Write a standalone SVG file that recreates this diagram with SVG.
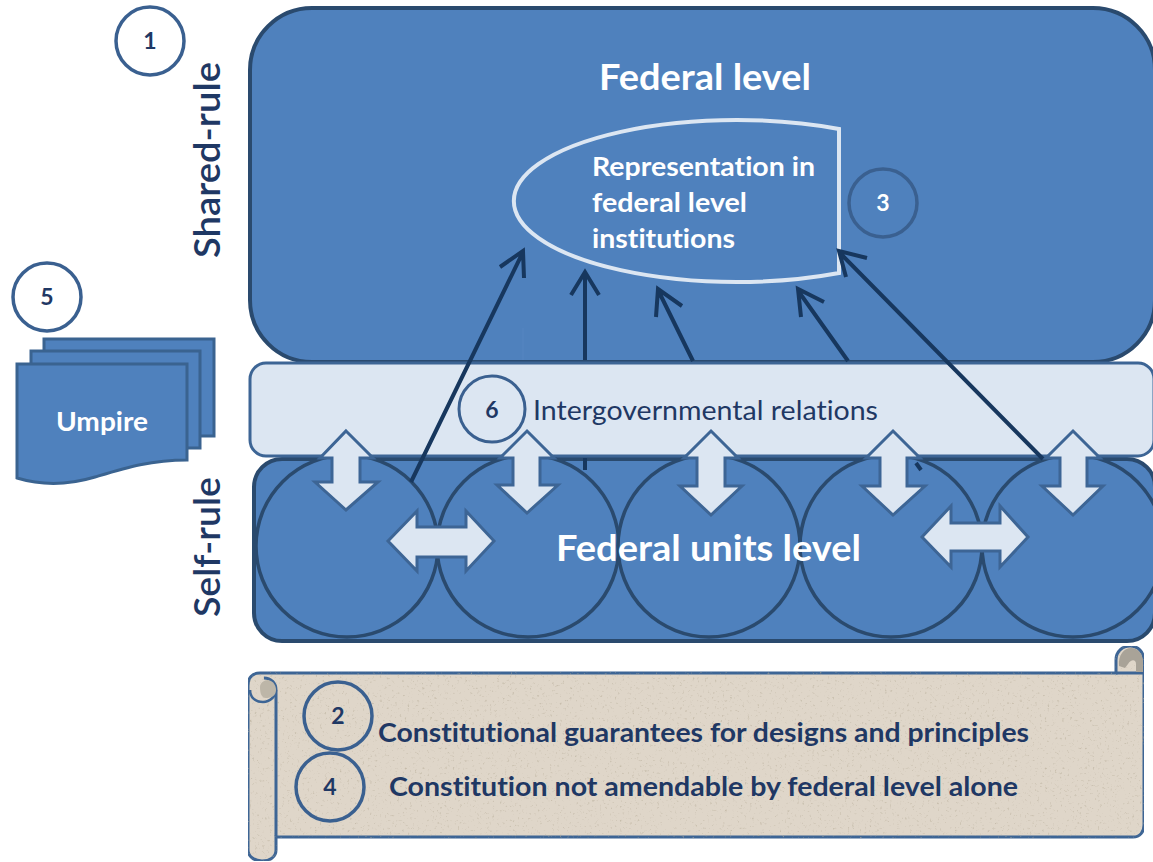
<svg xmlns="http://www.w3.org/2000/svg" width="1153" height="862" viewBox="0 0 1153 862">
<defs>
<filter id="paper" x="0" y="0" width="100%" height="100%" color-interpolation-filters="sRGB">
<feTurbulence type="fractalNoise" baseFrequency="0.4" numOctaves="2" seed="4" result="noise"/>
<feColorMatrix in="noise" type="matrix" values="0 0 0 0 0.72  0 0 0 0 0.68  0 0 0 0 0.60  0 0 0 2.4 -1.5" result="spots"/>
<feComposite in="spots" in2="SourceAlpha" operator="in" result="clipped"/>
<feMerge><feMergeNode in="SourceGraphic"/><feMergeNode in="clipped"/></feMerge>
</filter>
</defs>
<style>
text{font-family:Lato,"Open Sans","Liberation Sans",sans-serif;font-weight:700;font-variant-ligatures:none}
.unit{fill:#4f81bd;stroke:#2a4a6e;stroke-width:3.5}
.top{fill:#4f81bd;stroke:#2a4a6e;stroke-width:4}
.ring{fill:#fff;stroke:#3a6090;stroke-width:3.5}
.hollow{fill:none;stroke:#3a6090;stroke-width:3.5}
.n{fill:#1f3864;font-size:23px;text-anchor:middle}
.w{fill:#fff}
.arrow{fill:#dce6f2;stroke:#3d6595;stroke-width:3;stroke-linejoin:miter}
.conn{fill:none;stroke:#17375e;stroke-width:4}
.doc{fill:#4f81bd;stroke:#3a6390;stroke-width:3}
.scroll{fill:#dfd6c9;stroke:#3d6595;stroke-width:3}
.t{fill:#1f3864;font-size:27px}
.side{fill:#1f3864;font-size:36px;font-weight:600}
</style>
<g id="federal-level">
<rect class="top" x="250" y="8" width="905" height="354" rx="62"/>
<text class="w" x="599" y="90" font-size="36" textLength="212" lengthAdjust="spacingAndGlyphs">Federal level</text>
</g>
<g id="representation">
<path d="M839 129A223 81 0 1 0 839 273Z" fill="#4f81bd" stroke="#dce6f2" stroke-width="4"/>
<text class="w" font-size="27" x="592" y="176" textLength="223" lengthAdjust="spacingAndGlyphs">Representation in</text>
<text class="w" font-size="27" x="592" y="212" textLength="155" lengthAdjust="spacingAndGlyphs">federal level</text>
<text class="w" font-size="27" x="592" y="248" textLength="143" lengthAdjust="spacingAndGlyphs">institutions</text>
</g>
<g id="n3"><circle cx="883" cy="203" r="34" fill="none" stroke="#3a6090" stroke-width="3.5"/><text class="w" x="883" y="211" font-size="23" text-anchor="middle">3</text></g>
<g id="units-level">
<rect class="top" x="254" y="459" width="901" height="182" rx="28"/>
</g>
<g id="irg">
<rect x="250" y="363" width="904" height="93" rx="16" fill="#dce6f2" stroke="#3d6595" stroke-width="3"/>
<text fill="#1f3864" font-size="27" x="533" y="420" style="font-weight:400" textLength="345" lengthAdjust="spacingAndGlyphs">Intergovernmental relations</text>
</g>
<g id="units">
<circle class="unit" cx="347" cy="546" r="91"/>
<circle class="unit" cx="528" cy="546" r="91"/>
<circle class="unit" cx="709" cy="546" r="91"/>
<circle class="unit" cx="891" cy="546" r="91"/>
<circle class="unit" cx="1073" cy="546" r="91"/>
<text class="w" x="556" y="561" font-size="37" textLength="305" lengthAdjust="spacingAndGlyphs">Federal units level</text>
</g>
<g id="connectors">
<path d="M523 360V328" fill="none" stroke="#5a8ac4" stroke-width="1.5" opacity="0.5"/>
<path class="conn" d="M411 482L522 254M500 267L523 251L524 278"/>
<path class="conn" d="M585 360V274M571 295L585 272L599 295"/>
<path class="conn" d="M585 458V470"/>
<path class="conn" d="M693 361L659 292M656 317L658 289L682 306"/>
<path class="conn" d="M848 361L799 292M801 317L798 289L824 302"/>
<path class="conn" d="M1043 459L841 254M846 277L839 251L867 258"/>
<path class="conn" d="M916 463L921 470"/>
</g>
<g id="exchange-arrows">
<path class="arrow" d="M346 431L373 458H360V482H378L346 510L315 482H332V458H320Z"/>
<path class="arrow" d="M527 431L554 458H540V485H558L527 513L497 485H513V458H500Z"/>
<path class="arrow" d="M711 431L738 458H725V486H742L711 515L680 486H697V458H684Z"/>
<path class="arrow" d="M893 431L920 458H907V486H925L893 515L862 486H880V458H866Z"/>
<path class="arrow" d="M1073 431L1100 458H1087V486H1103L1073 515L1042 486H1060V458H1046Z"/>
<path class="arrow" d="M388 541L417 511V527H466V511L494 541L466 571V557H417V571Z"/>
<path class="arrow" d="M922 537L951 506V523H1000V506L1028 537L1000 567V551H951V567Z"/>
</g>
<g id="n6"><circle cx="492" cy="409" r="33" fill="#dce6f2" stroke="#3a6090" stroke-width="3"/><text class="n" x="492" y="418">6</text></g>
<g id="scroll">
<path class="scroll" filter="url(#paper)" d="M1116 673V660C1116 651 1123 646 1130 646C1138 646 1144 652 1144 661V825C1144 832 1140 837 1133 837H276V850C276 857 270 861 262 861C254 861 248 856 248 850V686C248 678 252 673 260 673Z"/>
<path d="M264 678C271 678 276 683 276 690V836" fill="none" stroke="#3d6595" stroke-width="3"/>
<path d="M276 690C276 696 270 702 263 702C255 702 250 697 250 690" fill="none" stroke="#3d6595" stroke-width="2.5"/>
<path d="M276 690C276 696 271 698 266 698C261 698 260 692 260 687C260 683 264 680 268 680C273 681 276 685 276 690Z" fill="#bdb6a8"/>
<path d="M1116 673H1144" fill="none" stroke="#3d6595" stroke-width="3"/>
<path d="M1119 666C1118 655 1124 648 1131 648C1138 648 1143 654 1143 662V672H1136V664C1136 659 1131 659 1128 664L1125 668Z" fill="#a9a398"/>
<text class="t" x="378" y="742" textLength="651" lengthAdjust="spacingAndGlyphs">Constitutional guarantees for designs and principles</text>
<text class="t" x="389" y="796" textLength="629" lengthAdjust="spacingAndGlyphs">Constitution not amendable by federal level alone</text>
</g>
<g id="n2"><circle cx="338" cy="716" r="34" class="hollow"/><text class="n" x="338" y="724">2</text></g>
<g id="n4"><circle cx="330" cy="787" r="34" class="hollow"/><text class="n" x="330" y="795">4</text></g>
<g id="n1"><circle cx="150" cy="41" r="34" class="ring"/><text class="n" x="150" y="49">1</text></g>
<g id="n5"><circle cx="47" cy="297" r="34" class="ring"/><text class="n" x="47" y="305">5</text></g>
<g id="umpire">
<path class="doc" d="M44 339H214V436H44Z"/>
<path class="doc" d="M31 351H200V448H31Z"/>
<path class="doc" d="M17 364H187V460C150 460 125 468 95 477C65 486 40 485 17 478Z"/>
<text class="w" x="56" y="431" font-size="26" textLength="92" lengthAdjust="spacingAndGlyphs">Umpire</text>
</g>
<g id="side-labels">
<text class="side" transform="translate(220 258) rotate(-90)" textLength="196" lengthAdjust="spacingAndGlyphs">Shared-rule</text>
<text class="side" transform="translate(220 617) rotate(-90)" textLength="140" lengthAdjust="spacingAndGlyphs">Self-rule</text>
</g>
</svg>
